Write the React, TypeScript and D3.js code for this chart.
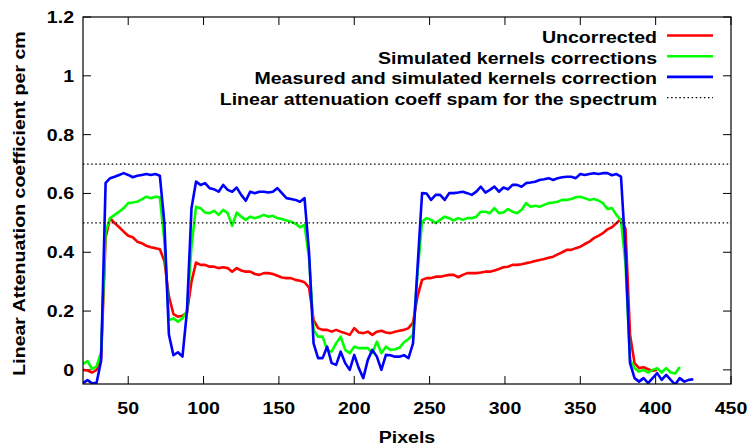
import React from "react";
import * as d3 from "d3";

const pixels = [
  20, 23, 26, 29, 32, 35, 38, 41, 44, 47,
  50, 53, 56, 59, 62, 65, 68, 71, 74, 77,
  80, 83, 86, 89, 92, 95, 98, 101, 104, 107,
  110, 113, 116, 119, 122, 125, 128, 131, 134, 137,
  140, 143, 146, 149, 152, 155, 158, 161, 164, 167,
  170, 173, 176, 179, 182, 185, 188, 191, 194, 197,
  200, 203, 206, 209, 212, 215, 218, 221, 224, 227,
  230, 233, 236, 239, 242, 245, 248, 251, 254, 257,
  260, 263, 266, 269, 272, 275, 278, 281, 284, 287,
  290, 293, 296, 299, 302, 305, 308, 311, 314, 317,
  320, 323, 326, 329, 332, 335, 338, 341, 344, 347,
  350, 353, 356, 359, 362, 365, 368, 371, 374, 377,
  380, 383, 386, 389, 392, 395, 398, 401, 404, 407,
  410, 413, 416, 419, 422, 425,
];

const uncorrected: (number | null)[] = [
  0.0, -0.002, -0.009, 0.0, 0.04, 0.45, 0.516, 0.499, 0.485, 0.47,
  0.456, 0.451, 0.436, 0.431, 0.422, 0.417, 0.414, 0.41, 0.37, 0.25,
  0.19, 0.181, 0.184, 0.195, 0.3, 0.365, 0.357, 0.357, 0.351, 0.351,
  0.346, 0.349, 0.346, 0.334, 0.346, 0.338, 0.334, 0.334, 0.326, 0.323,
  0.329, 0.329, 0.326, 0.32, 0.314, 0.312, 0.312, 0.306, 0.303, 0.298,
  0.28, 0.17, 0.142, 0.136, 0.136, 0.13, 0.136, 0.13, 0.125, 0.119,
  0.142, 0.127, 0.125, 0.13, 0.119, 0.13, 0.133, 0.127, 0.125, 0.13,
  0.133, 0.136, 0.142, 0.161, 0.25, 0.306, 0.312, 0.312, 0.317, 0.317,
  0.32, 0.323, 0.323, 0.315, 0.323, 0.329, 0.329, 0.329, 0.331, 0.334,
  0.334, 0.338, 0.343, 0.349, 0.351, 0.357, 0.357, 0.359, 0.363, 0.366,
  0.37, 0.374, 0.377, 0.381, 0.385, 0.393, 0.4, 0.408, 0.408, 0.414,
  0.419, 0.428, 0.436, 0.448, 0.456, 0.465, 0.478, 0.485, 0.499, 0.513,
  0.48, 0.12, 0.023, 0.006, 0.009, 0.002, -0.003, 0.0, null, null,
  null, null, null, null, null, null,
];

const simulatedKernels: (number | null)[] = [
  0.02, 0.03, 0.003, 0.012, 0.06, 0.47, 0.516, 0.527, 0.538, 0.55,
  0.567, 0.569, 0.572, 0.58, 0.589, 0.584, 0.589, 0.587, 0.44, 0.17,
  0.175, 0.164, 0.175, 0.2, 0.42, 0.555, 0.55, 0.535, 0.533, 0.541,
  0.527, 0.544, 0.533, 0.49, 0.535, 0.521, 0.51, 0.521, 0.516, 0.521,
  0.527, 0.521, 0.524, 0.516, 0.513, 0.508, 0.504, 0.497, 0.485, 0.493,
  0.38, 0.136, 0.113, 0.113, 0.068, 0.062, 0.091, 0.113, 0.068, 0.057,
  0.079, 0.074, 0.074, 0.074, 0.057, 0.096, 0.057, 0.079, 0.068, 0.07,
  0.075, 0.094, 0.105, 0.12, 0.33, 0.504, 0.516, 0.51, 0.499, 0.51,
  0.521, 0.516, 0.508, 0.516, 0.51, 0.516, 0.516, 0.521, 0.538, 0.538,
  0.533, 0.55, 0.533, 0.535, 0.547, 0.538, 0.533, 0.544, 0.567, 0.555,
  0.558, 0.555, 0.561, 0.567, 0.569, 0.572, 0.578, 0.578, 0.581, 0.587,
  0.589, 0.584, 0.578, 0.581, 0.576, 0.567, 0.547, 0.55, 0.527, 0.508,
  0.36, 0.034, 0.006, -0.006, 0.0, -0.009, 0.0, 0.006, -0.009, 0.006,
  -0.009, -0.012, 0.01, null, null, null,
];

const measuredKernels: (number | null)[] = [
  -0.045, -0.035, -0.046, -0.044, 0.03, 0.636, 0.652, 0.657, 0.663, 0.669,
  0.663, 0.655, 0.66, 0.663, 0.666, 0.663, 0.666, 0.66, 0.5, 0.12,
  0.05, 0.06, 0.045, 0.2, 0.55, 0.64, 0.629, 0.635, 0.618, 0.614,
  0.606, 0.629, 0.612, 0.606, 0.62, 0.595, 0.575, 0.606, 0.601, 0.606,
  0.606, 0.603, 0.606, 0.618, 0.601, 0.584, 0.581, 0.578, 0.572, 0.584,
  0.4, 0.09, 0.04, 0.04, 0.079, 0.023, 0.017, 0.062, 0.023, 0.0,
  0.051, 0.006, -0.028, 0.034, 0.068, 0.045, 0.0, 0.051, 0.05, 0.045,
  0.045, 0.05, 0.04, 0.09, 0.35, 0.601, 0.6, 0.578, 0.595, 0.595,
  0.578, 0.601, 0.601, 0.603, 0.606, 0.601, 0.595, 0.606, 0.623, 0.603,
  0.612, 0.623, 0.606, 0.62, 0.614, 0.629, 0.629, 0.623, 0.635, 0.637,
  0.64, 0.646, 0.648, 0.652, 0.646, 0.652, 0.655, 0.657, 0.657, 0.652,
  0.666, 0.663, 0.666, 0.669, 0.666, 0.669, 0.669, 0.662, 0.666, 0.657,
  0.4, 0.023, -0.028, -0.04, -0.028, -0.045, -0.028, -0.011, -0.034, -0.017,
  -0.034, -0.05, -0.028, -0.04, -0.034, -0.032,
];

const spectrumBounds = [0.7, 0.5];

const xTicks = [50, 100, 150, 200, 250, 300, 350, 400, 450];
const yTicks = [0, 0.2, 0.4, 0.6, 0.8, 1, 1.2];

const seriesNames = [
  "Uncorrected",
  "Simulated kernels corrections",
  "Measured and simulated kernels correction",
];
const seriesColors = ["#ff0000", "#00ff00", "#0000ff"];
const spanLabel = "Linear attenuation coeff spam for the spectrum";

const W = 750;
const H = 448;
const L = 83;
const R = 731;
const T = 17;
const B = 384;
const FONT = "'Liberation Sans', Arial, Helvetica, sans-serif";
const SX = 1.15;

function Txt(props: {
  x: number;
  y: number;
  anchor: "start" | "middle" | "end";
  rotate?: number;
  children: React.ReactNode;
}) {
  const { x, y, anchor, rotate = 0, children } = props;
  return (
    <text
      transform={`translate(${x},${y}) rotate(${rotate}) scale(${SX},1)`}
      textAnchor={anchor}
      fontFamily={FONT}
      fontWeight="bold"
      fontSize={17}
      fill="#000"
    >
      {children}
    </text>
  );
}

export default function App() {
  const x = d3.scaleLinear().domain([20, 450]).range([L, R]);
  const y = d3.scaleLinear().domain([-0.048, 1.2]).range([B, T]);

  const series = [uncorrected, simulatedKernels, measuredKernels];
  const mkLine = (vals: (number | null)[]) =>
    d3
      .line<number>()
      .defined((i) => vals[i] !== null && vals[i] !== undefined)
      .x((i) => x(pixels[i]))
      .y((i) => y(vals[i] as number))(d3.range(pixels.length)) || "";

  const legendLineY = (i: number) => 35.5 + i * 20.7;

  return (
    <svg width={W} height={H} style={{ position: "absolute", left: 0, top: 0, background: "#fff" }}>
      <rect x={0} y={0} width={W} height={H} fill="#fff" />
      <defs>
        <clipPath id="plotclip">
          <rect x={L} y={T} width={R - L} height={B - T} />
        </clipPath>
      </defs>

      {/* ticks */}
      {yTicks.map((t) => (
        <g key={"y" + t}>
          <line x1={L} x2={L + 8} y1={y(t)} y2={y(t)} stroke="#000" strokeWidth={1} />
          <line x1={R - 8} x2={R} y1={y(t)} y2={y(t)} stroke="#000" strokeWidth={1} />
          <Txt x={74} y={y(t) + 6} anchor="end">
            {d3.format("~g")(t)}
          </Txt>
        </g>
      ))}
      {xTicks.map((t) => (
        <g key={"x" + t}>
          <line x1={x(t)} x2={x(t)} y1={B} y2={B - 8} stroke="#000" strokeWidth={1} />
          <line x1={x(t)} x2={x(t)} y1={T} y2={T + 8} stroke="#000" strokeWidth={1} />
          <Txt x={x(t)} y={414} anchor="middle">
            {t}
          </Txt>
        </g>
      ))}

      {/* series */}
      <g clipPath="url(#plotclip)">
        {series.map((vals, i) => (
          <path
            key={i}
            d={mkLine(vals)}
            fill="none"
            stroke={seriesColors[i]}
            strokeWidth={2.6}
            strokeLinejoin="round"
          />
        ))}
        {spectrumBounds.map((v) => (
          <line
            key={v}
            x1={L}
            x2={R}
            y1={y(v)}
            y2={y(v)}
            stroke="#000"
            strokeWidth={1.3}
            strokeDasharray="1.5,2.6"
          />
        ))}
      </g>

      {/* frame */}
      <rect x={L} y={T} width={R - L} height={B - T} fill="none" stroke="#000" strokeWidth={1.2} />

      {/* legend */}
      {seriesNames.map((n, i) => (
        <g key={n}>
          <Txt x={657} y={legendLineY(i) + 7.3} anchor="end">
            {n}
          </Txt>
          <line
            x1={667}
            x2={713}
            y1={legendLineY(i)}
            y2={legendLineY(i)}
            stroke={seriesColors[i]}
            strokeWidth={2.6}
          />
        </g>
      ))}
      <Txt x={657} y={legendLineY(3) + 7.3} anchor="end">
        {spanLabel}
      </Txt>
      <line
        x1={667}
        x2={713}
        y1={legendLineY(3)}
        y2={legendLineY(3)}
        stroke="#000"
        strokeWidth={1.3}
        strokeDasharray="1.5,2.6"
      />

      {/* axis titles */}
      <Txt x={407} y={443} anchor="middle">
        Pixels
      </Txt>
      <Txt x={25} y={203.5} anchor="middle" rotate={-90}>
        Linear Attenuation coefficient per cm
      </Txt>
    </svg>
  );
}
